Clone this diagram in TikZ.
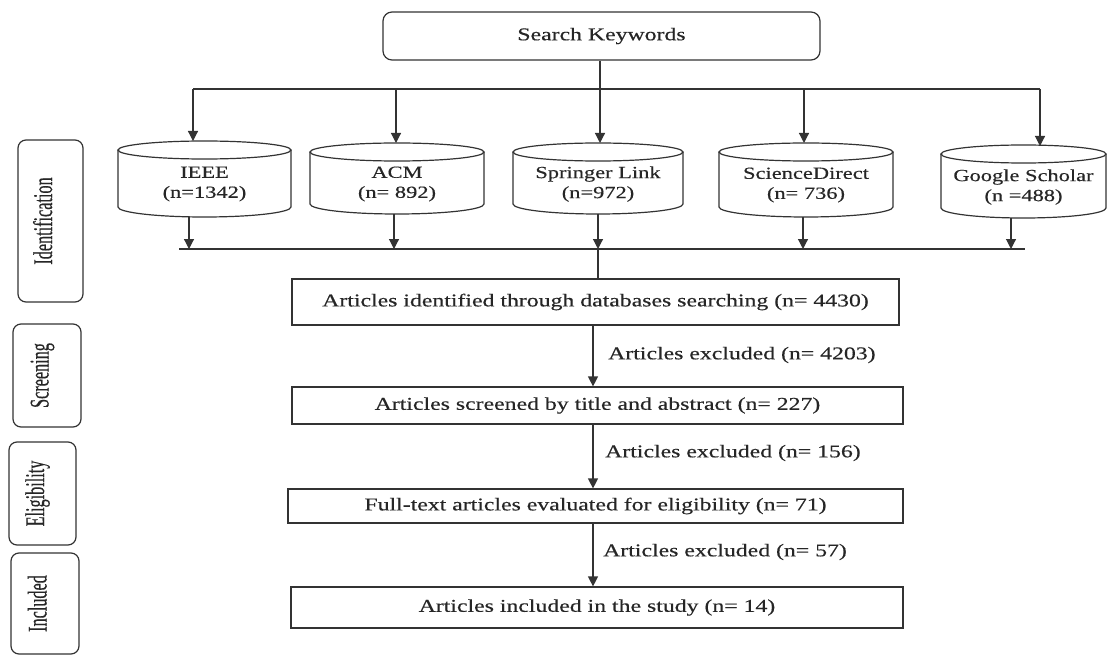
\documentclass[tikz,border=0pt]{standalone}
\usepackage{fontspec}
\setmainfont{Liberation Serif}[FakeStretch=1.32,FakeBold=0.4]
\newfontfamily\sidefont{Liberation Serif}[FakeStretch=0.6,FakeBold=0.4]
\usetikzlibrary{arrows.meta}
\newcommand{\dbcyl}[7]{%
  \node[cyltext] (#1) at (#2,-#6) {#7};
  \draw[ln] (#2-#3,-#4) -- (#2-#3,-#5) arc[start angle=180,end angle=360,x radius=#3,y radius=10] -- (#2+#3,-#4);
  \draw[ln] (#2,-#4) ellipse[x radius=#3,y radius=9];
}
\begin{document}
\begin{tikzpicture}[x=1pt,y=1pt,
  ln/.style={line width=1.2pt, draw=black!80},
  arr/.style={ln, -{Triangle[length=10pt,width=10pt]}},
  stepbox/.style={ln, rectangle, inner sep=0pt, font=\fontsize{18}{21}\selectfont, text=black!85},
  cyltext/.style={align=center, inner sep=0pt, font=\fontsize{17}{20}\selectfont, text=black!85},
  side/.style={ln, rounded corners=8pt, rotate=90, inner sep=0pt, font=\sidefont\fontsize{27}{29}\selectfont, text=black!85, text height=18pt, text depth=15pt},
  lab/.style={anchor=west, inner sep=0pt, font=\fontsize{18}{21}\selectfont, text=black!85}]
\useasboundingbox (0,0) rectangle (1108,-655);

% Search keywords
\node[stepbox, rounded corners=9pt, minimum width=437, minimum height=48] (sk) at (601.5,-36) {Search Keywords};

% databases
\dbcyl{ieee}{204.5}{86.5}{150}{207}{184}{IEEE\\(n=1342)}
\dbcyl{acm}{397}{87}{152}{204}{184}{ACM\\(n= 892)}
\dbcyl{spr}{598}{85}{152}{204}{184}{Springer Link\\(n=972)}
\dbcyl{sd}{806}{87}{152}{207}{185}{ScienceDirect\\(n= 736)}
\dbcyl{gs}{1023.5}{82.5}{154}{208}{187}{Google Scholar\\(n =488)}

% distribution line
\coordinate (bL) at (193,-89);
\coordinate (bA) at (396,-89);
\coordinate (bS) at (600,-89);
\coordinate (bD) at (804,-89);
\coordinate (bR) at (1040,-89);
\coordinate (ieeeIn) at (193,-141);
\coordinate (acmIn) at (396,-143);
\coordinate (sprIn) at (600,-143);
\coordinate (sdIn) at (804,-143);
\coordinate (gsIn) at (1040,-146);
\draw[ln] (bL) -- (bR);
\draw[ln] (sk.south -| bS) -- (bS);
\draw[arr] (bL) -- (ieeeIn);
\draw[arr] (bA) -- (acmIn);
\draw[arr] (bS) -- (sprIn);
\draw[arr] (bD) -- (sdIn);
\draw[arr] (bR) -- (gsIn);

% collector line
\coordinate (ieeeOut) at (189,-217);
\coordinate (acmOut) at (394,-214);
\coordinate (sprOut) at (598,-214);
\coordinate (sdOut) at (803,-217);
\coordinate (gsOut) at (1011,-218);
\coordinate (cL) at (179,-249);
\coordinate (cR) at (1025,-249);
\coordinate (c1) at (189,-249);
\coordinate (c2) at (394,-249);
\coordinate (c3) at (598,-249);
\coordinate (c4) at (803,-249);
\coordinate (c5) at (1011,-249);
\draw[ln] (cL) -- (cR);
\draw[arr] (ieeeOut) -- (c1);
\draw[arr] (acmOut) -- (c2);
\draw[arr] (sprOut) -- (c3);
\draw[arr] (sdOut) -- (c4);
\draw[arr] (gsOut) -- (c5);

% flow boxes
\node[stepbox, minimum width=607, minimum height=46] (b1) at (595.5,-302) {Articles identified through databases searching (n= 4430)};
\node[stepbox, minimum width=611, minimum height=37] (b2) at (597.5,-405.5) {Articles screened by title and abstract (n= 227)};
\node[stepbox, minimum width=615, minimum height=34] (b3) at (595.5,-506) {Full-text articles evaluated for eligibility (n= 71)};
\node[stepbox, minimum width=612, minimum height=41] (b4) at (597,-607.5) {Articles included in the study (n= 14)};

\draw[ln] (c3) -- (b1.north -| c3);
\coordinate (ax) at (593,0);
\draw[arr] (b1.south -| ax) -- (b2.north -| ax);
\draw[arr] (b2.south -| ax) -- (b3.north -| ax);
\draw[arr] (b3.south -| ax) -- (b4.north -| ax);

\node[lab] (e1) at (608,-355) {Articles excluded (n= 4203)};
\node[lab] (e2) at (605,-453) {Articles excluded (n= 156)};
\node[lab] (e3) at (603,-552) {Articles excluded (n= 57)};

% phase labels
\node[side, minimum width=162, minimum height=65] (pI) at (50.5,-221) {Identification};
\node[side, minimum width=103, minimum height=68] (pS) at (47,-375.5) {Screening};
\node[side, minimum width=103, minimum height=67] (pE) at (42.5,-493.5) {Eligibility};
\node[side, minimum width=101, minimum height=68] (pN) at (45,-603.5) {Included};
\end{tikzpicture}
\end{document}
